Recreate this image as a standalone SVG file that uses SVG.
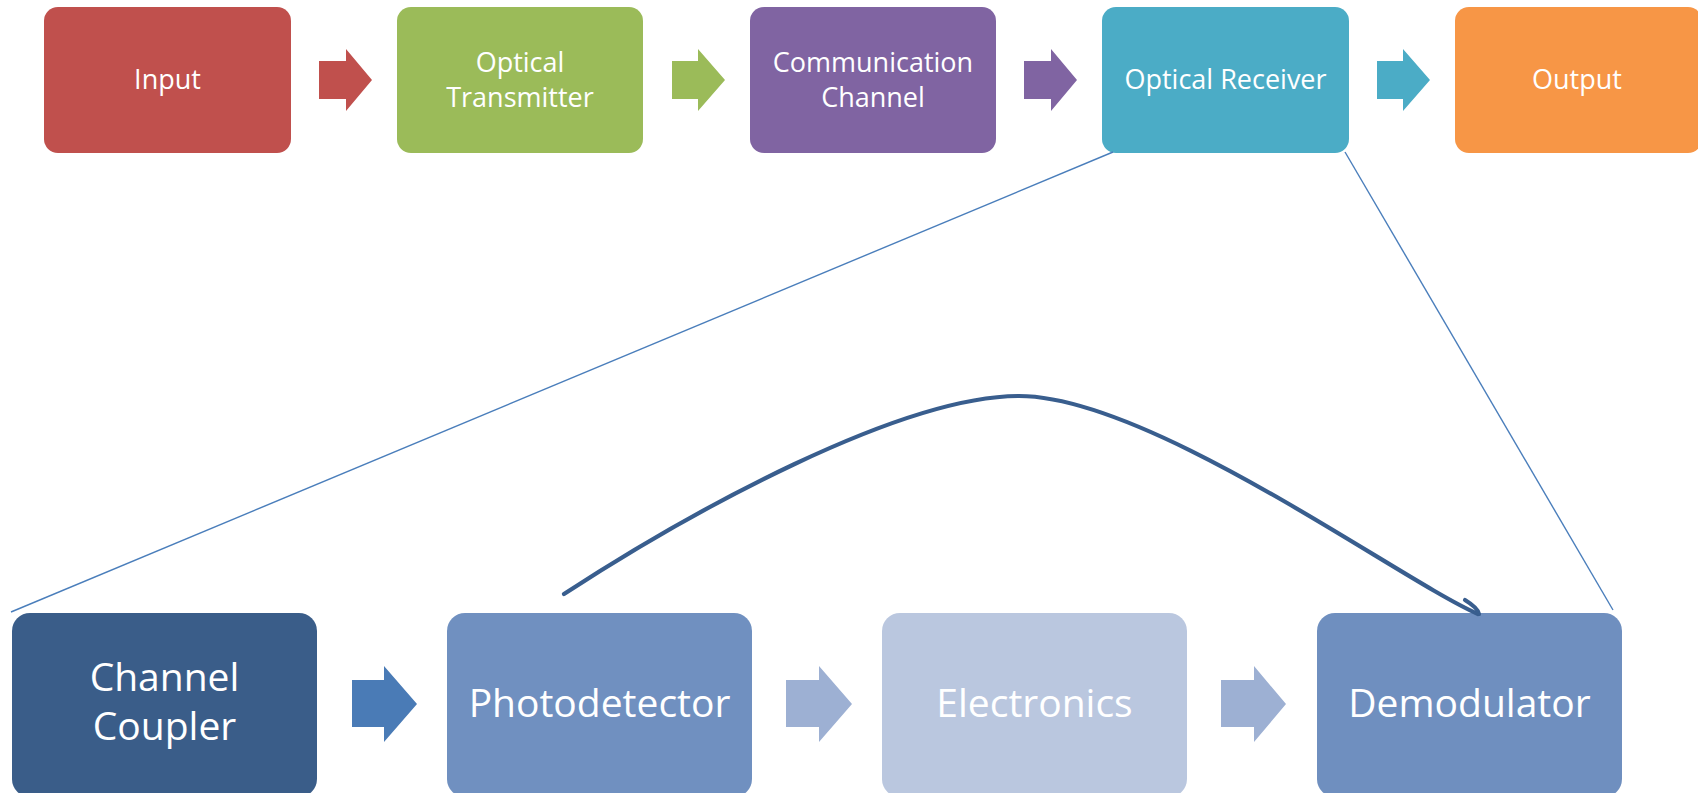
<svg xmlns="http://www.w3.org/2000/svg" width="1698" height="793" viewBox="0 0 1698 793">
<style>
.t{font-family:"Open Sans","Noto Sans","Liberation Sans",sans-serif;fill:#ffffff;text-anchor:middle;font-size:27px}
.b{font-size:39px}
.thin{fill:none;stroke:#4A7EBB;stroke-width:1.4}
.curve{fill:none;stroke:#395E8E;stroke-width:4.2;stroke-linecap:round}
</style>
<rect width="1698" height="793" fill="#ffffff"/>
<g id="input"><rect x="44" y="7" width="247" height="146" rx="14" fill="#C0504D"/><text class="t" x="167.5" y="89">Input</text></g>
<g id="transmitter"><rect x="397" y="7" width="246" height="146" rx="14" fill="#9BBB59"/><text class="t" x="520" y="72">Optical</text><text class="t" x="520" y="107">Transmitter</text></g>
<g id="channel"><rect x="750" y="7" width="246" height="146" rx="14" fill="#8064A2"/><text class="t" x="873" y="72">Communication</text><text class="t" x="873" y="107">Channel</text></g>
<g id="receiver"><rect x="1102" y="7" width="247" height="146" rx="14" fill="#4BACC6"/><text class="t" x="1225.5" y="89">Optical Receiver</text></g>
<g id="output"><rect x="1455" y="7" width="247" height="146" rx="14" fill="#F79646"/><text class="t" x="1577" y="89">Output</text></g>
<g id="top-arrows">
<polygon points="319,61 346,61 346,49 372,80 346,111 346,99 319,99" fill="#C0504D"/>
<polygon points="672,61 698,61 698,49 725,80 698,111 698,99 672,99" fill="#9BBB59"/>
<polygon points="1024,61 1051,61 1051,49 1077,80 1051,111 1051,99 1024,99" fill="#8064A2"/>
<polygon points="1377,61 1403,61 1403,49 1430,80 1403,111 1403,99 1377,99" fill="#4BACC6"/>
</g>
<g id="coupler"><rect x="12" y="613" width="305" height="184" rx="18" fill="#3A5D89"/><text class="t b" x="164.5" y="691">Channel</text><text class="t b" x="164.5" y="740">Coupler</text></g>
<g id="photodetector"><rect x="447" y="613" width="305" height="184" rx="18" fill="#7090C0"/><text class="t b" x="599.5" y="717">Photodetector</text></g>
<g id="electronics"><rect x="882" y="613" width="305" height="184" rx="18" fill="#BAC7DF"/><text class="t b" x="1034.5" y="717">Electronics</text></g>
<g id="demodulator"><rect x="1317" y="613" width="305" height="184" rx="18" fill="#6F8FBF"/><text class="t b" x="1469.5" y="717">Demodulator</text></g>
<g id="bottom-arrows">
<polygon points="352,680 384,680 384,666 417,704 384,742 384,727 352,727" fill="#4A7BB6"/>
<polygon points="786,680 819,680 819,666 852,704 819,742 819,727 786,727" fill="#9DB0D3"/>
<polygon points="1221,680 1254,680 1254,666 1286,704 1254,742 1254,727 1221,727" fill="#9DB0D3"/>
</g>
<g id="connectors">
<line class="thin" x1="1113" y1="152" x2="11" y2="612"/>
<line class="thin" x1="1345" y1="152" x2="1613" y2="610"/>
<path class="curve" d="M564,594 C690,512 900,396 1019,396 C1150,396 1400,580 1478,614"/>
<path class="curve" d="M1465,600 Q1478,608 1479,614"/>
</g>
</svg>
